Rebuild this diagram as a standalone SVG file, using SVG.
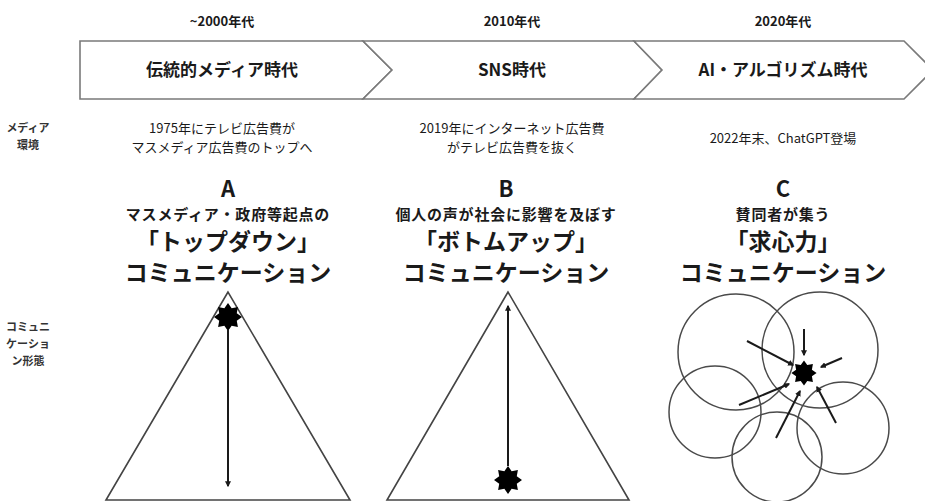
<svg xmlns="http://www.w3.org/2000/svg" width="925" height="501" viewBox="0 0 925 501">
<style>
text{font-family:"Noto Sans CJK JP","Noto Sans",sans-serif;fill:#1a1a1a;text-anchor:middle}
.hd{font-size:13px;font-weight:700}
.era{font-size:17px;font-weight:700}
.side{font-size:11px;font-weight:700;fill:#333}
.env{font-size:13px;font-weight:400}
.abc{font-size:22px;font-weight:700}
.sub{font-size:15px;font-weight:700;letter-spacing:0.8px}
.big{font-size:23px;font-weight:700}
.band{fill:#fff;stroke:#7a7a7a;stroke-width:1.6}
.tri{fill:none;stroke:#444;stroke-width:1.6}
.cir{fill:none;stroke:#4a4a4a;stroke-width:1.5}
.arr{stroke:#1a1a1a;stroke-width:2;fill:none;marker-end:url(#ah)}
</style>
<defs>
<marker id="ah" viewBox="0 0 10 10" refX="8" refY="5" markerWidth="3" markerHeight="3" orient="auto" markerUnits="strokeWidth">
<path d="M0,0 L10,5 L0,10 Z" fill="#1a1a1a"/>
</marker>
<path id="star" d="M0,-14 L3.64,-8.78 L9.9,-9.9 L8.78,-3.64 L14,0 L8.78,3.64 L9.9,9.9 L3.64,8.78 L0,14 L-3.64,8.78 L-9.9,9.9 L-8.78,3.64 L-14,0 L-8.78,-3.64 L-9.9,-9.9 L-3.64,-8.78 Z" fill="#000"/>
</defs>
<rect width="925" height="501" fill="#fff"/>

<g id="era-1">
<text class="hd" x="222" y="26">~2000年代</text>
<path class="band" d="M80,41 L363,41 L392,70 L363,99 L80,99 Z"/>
<text class="era" x="222" y="76">伝統的メディア時代</text>
</g>
<g id="era-2">
<text class="hd" x="512" y="26">2010年代</text>
<path class="band" d="M363,41 L634,41 L662,70 L634,99 L363,99 L392,70 Z"/>
<text class="era" x="512" y="76">SNS時代</text>
</g>
<g id="era-3">
<text class="hd" x="783" y="26">2020年代</text>
<path class="band" d="M634,41 L904,41 L933,70 L904,99 L634,99 L662,70 Z"/>
<text class="era" x="783" y="76">AI・アルゴリズム時代</text>
</g>

<g id="label-media">
<text class="side" x="28" y="132">メディア</text>
<text class="side" x="28" y="149">環境</text>
</g>
<g id="label-form">
<text class="side" x="28" y="331">コミュニ</text>
<text class="side" x="28" y="348">ケーショ</text>
<text class="side" x="28" y="365">ン形態</text>
</g>

<g id="env-1">
<text class="env" x="222" y="133">1975年にテレビ広告費が</text>
<text class="env" x="222" y="152">マスメディア広告費のトップへ</text>
</g>
<g id="env-2">
<text class="env" x="512" y="133">2019年にインターネット広告費</text>
<text class="env" x="512" y="152">がテレビ広告費を抜く</text>
</g>
<g id="env-3">
<text class="env" x="783" y="143">2022年末、ChatGPT登場</text>
</g>

<g id="title-A">
<text class="abc" x="228" y="197">A</text>
<text class="sub" x="228" y="220">マスメディア・政府等起点の</text>
<text class="big" x="228" y="250">「トップダウン」</text>
<text class="big" x="228" y="281">コミュニケーション</text>
</g>
<g id="title-B">
<text class="abc" x="506" y="197">B</text>
<text class="sub" x="506" y="220">個人の声が社会に影響を及ぼす</text>
<text class="big" x="506" y="250">「ボトムアップ」</text>
<text class="big" x="506" y="281">コミュニケーション</text>
</g>
<g id="title-C">
<text class="abc" x="783" y="197">C</text>
<text class="sub" x="783" y="220">賛同者が集う</text>
<text class="big" x="783" y="250">「求心力」</text>
<text class="big" x="783" y="281">コミュニケーション</text>
</g>

<g id="diagram-A">
<polygon class="tri" points="228,292 106,500 350,500"/>
<use href="#star" transform="translate(228,317)"/>
</g>
<g id="diagram-B">
<polygon class="tri" points="508,292 387,500 629,500"/>
<use href="#star" transform="translate(508,480)"/>
</g>
<g id="diagram-C">
<circle class="cir" cx="736" cy="352" r="58"/>
<circle class="cir" cx="820" cy="350" r="58"/>
<circle class="cir" cx="715" cy="412" r="46"/>
<circle class="cir" cx="777" cy="457" r="45"/>
<circle class="cir" cx="843" cy="428" r="46"/>
<use href="#star" transform="translate(804,373) scale(0.9)"/>
</g>

<g id="connectors">
<line class="arr" x1="228" y1="330" x2="228" y2="486"/>
<line class="arr" x1="508" y1="466" x2="508" y2="306"/>
<line class="arr" x1="804" y1="329" x2="804" y2="355"/>
<line class="arr" x1="842" y1="358" x2="821" y2="367"/>
<line class="arr" x1="747" y1="341" x2="793" y2="365"/>
<line class="arr" x1="739" y1="405" x2="789" y2="384"/>
<line class="arr" x1="776" y1="438" x2="800" y2="391"/>
<line class="arr" x1="836" y1="423" x2="817" y2="387"/>
</g>
</svg>
